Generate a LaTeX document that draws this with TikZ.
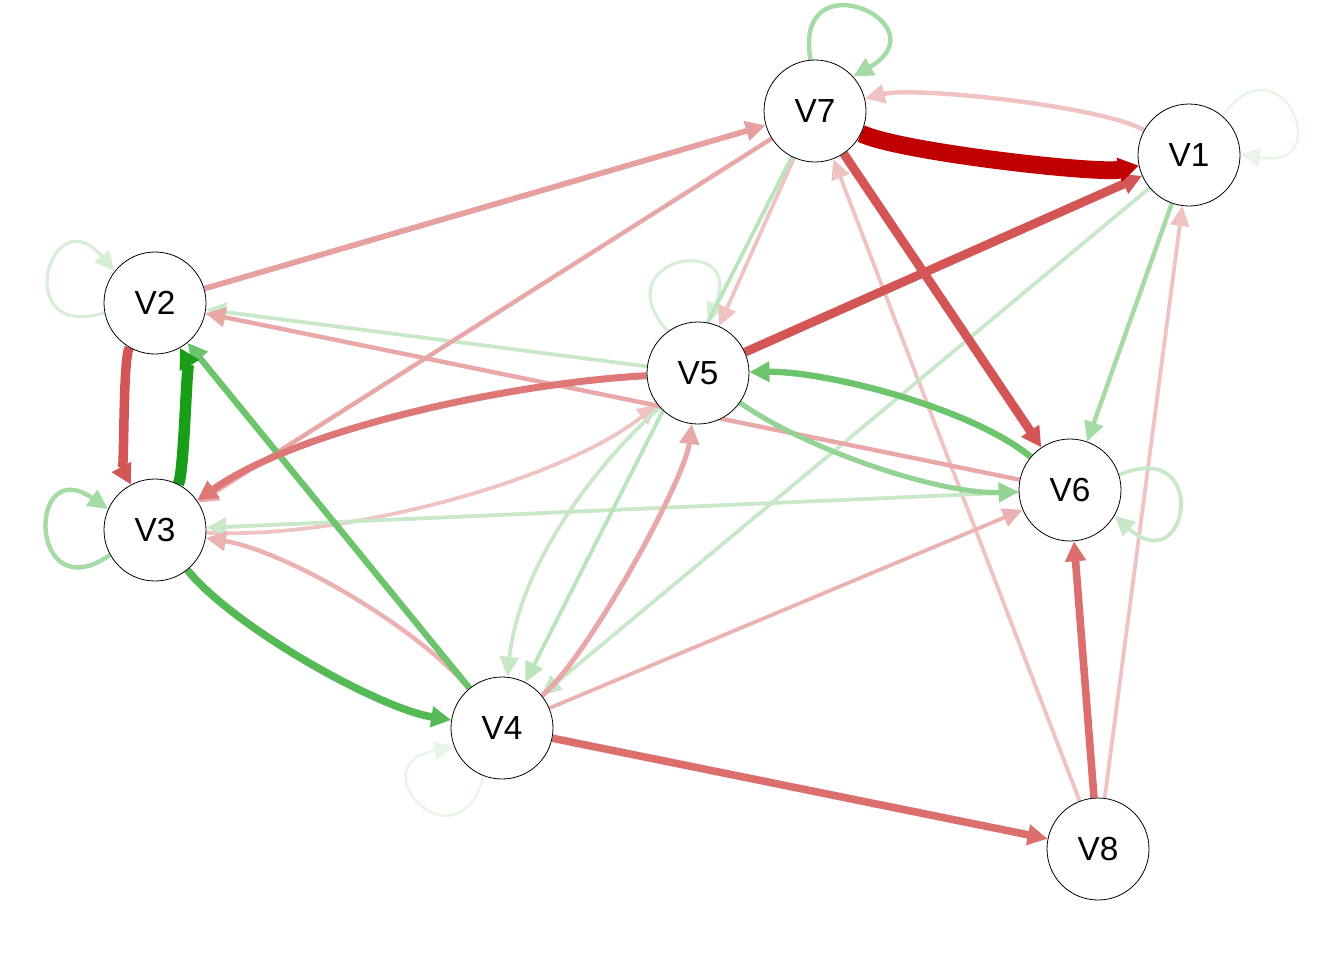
\documentclass[tikz,border=0pt]{standalone}
\usepackage{fontspec}
\setmainfont{Liberation Sans}
\usetikzlibrary{arrows.meta}

% edge colours: greens for positive, reds for negative weights
\definecolor{gA}{HTML}{E8F5E8}
\definecolor{gB}{HTML}{D7EED7}
\definecolor{gC}{HTML}{C8E8C8}
\definecolor{gD}{HTML}{BAE4BA}
\definecolor{gE}{HTML}{A6DBA6}
\definecolor{gF}{HTML}{94D394}
\definecolor{gG}{HTML}{6CC46C}
\definecolor{gH}{HTML}{55B955}
\definecolor{gI}{HTML}{1A9E1A}
\definecolor{rA}{HTML}{F0C3C3}
\definecolor{rB}{HTML}{EBB2B2}
\definecolor{rC}{HTML}{E8A8A8}
\definecolor{rD}{HTML}{E6A0A0}
\definecolor{rE}{HTML}{DE7878}
\definecolor{rF}{HTML}{DC6E6E}
\definecolor{rG}{HTML}{D45555}
\definecolor{rH}{HTML}{C00000}

\pgfdeclarelayer{edges}
\pgfsetlayers{edges,main}

\begin{document}
\begin{tikzpicture}[x=0.75pt,y=-0.75pt,
  vnode/.style={circle,draw=black,line width=0.6pt,fill=white,
    minimum size=76.5pt,inner sep=0pt,font=\fontsize{25}{29}\selectfont},
  wedge/.style 2 args={draw=#1,line width=#2*0.95pt,
    -{Triangle[length=15pt,width=13pt 0.35]}},
]
\useasboundingbox (0,0) rectangle (1344,960);

% variables
\node[vnode] (V1) at (1189,155) {V1};
\node[vnode] (V2) at (155,303) {V2};
\node[vnode] (V3) at (155,530) {V3};
\node[vnode] (V4) at (502,728) {V4};
\node[vnode] (V5) at (698,373) {V5};
\node[vnode] (V6) at (1070,490) {V6};
\node[vnode] (V7) at (815,111) {V7};
\node[vnode] (V8) at (1098,849) {V8};

\begin{pgfonlayer}{edges}
% self-loops
\draw[wedge={gA}{2}] (V1.49) .. controls +(55:75pt) and +(-10:75pt) .. (V1.1);
\draw[wedge={gA}{2}] (V4.249) .. controls +(255:75pt) and +(190:75pt) .. (V4.202);
\draw[wedge={gB}{2.5}] (V2.191) .. controls +(197:75pt) and +(130:75pt) .. (V2.142);
\draw[wedge={gB}{2.5}] (V5.126) .. controls +(132:75pt) and +(67:75pt) .. (V5.79);

% weak edges
\draw[wedge={rA}{3.5}] (V1) to[out=151,in=14,looseness=0.46] (V7);
\draw[wedge={rA}{3}] (V8) -- (V7);
\draw[wedge={rA}{3}] (V8) -- (V1);
\draw[wedge={rA}{3}] (V3) to[out=-3,in=218,looseness=0.71] (V5);
\draw[wedge={rA}{3}] (V7) -- (V5);
\draw[wedge={gC}{3}] (V5) to[out=222,in=84,looseness=0.85] (V4);
\draw[wedge={gC}{3}] (V1) -- (V4);
\draw[wedge={gC}{3}] (V6) -- (V3);
\draw[wedge={gC}{3}] (V5) -- (V2);

\draw[wedge={gC}{3}] (V6.17) .. controls +(23:75pt) and +(-42:75pt) .. (V6.-30);
\draw[wedge={gD}{3}] (V7) -- (V4);

\draw[wedge={rB}{3}] (V4) -- (V6);
\draw[wedge={rB}{3.5}] (V4) to[out=130,in=351,looseness=0.68] (V3);
\draw[wedge={rC}{3.5}] (V6) -- (V2);
\draw[wedge={rC}{3.5}] (V7) -- (V3);
\draw[wedge={rC}{4}] (V4) to[out=39,in=263,looseness=0.47] (V5);
\draw[wedge={rD}{4.5}] (V2) -- (V7);

% medium edges
\draw[wedge={gE}{3.5}] (V1) -- (V6);
\draw[wedge={gE}{3.5}] (V3.209) .. controls +(215:75pt) and +(145:75pt) .. (V3.156);
\draw[wedge={gE}{3.5}] (V7.95) .. controls +(100:79pt) and +(30:79pt) .. (V7.42);
\draw[wedge={gF}{4}] (V5) to[out=-35.5,in=182,looseness=0.7] (V6);

\draw[wedge={gG}{5}] (V6) to[out=140,in=1,looseness=0.66] (V5);
\draw[wedge={gG}{5}] (V4) -- (V2);
\draw[wedge={rE}{5.5}] (V5) to[out=183,in=35,looseness=0.71] (V3);
\draw[wedge={gH}{6}] (V3) to[out=-51,in=171,looseness=0.62] (V4);

% strong edges
\draw[wedge={rF}{6}] (V8) -- (V6);
\draw[wedge={rF}{6}] (V4) -- (V8);
\draw[wedge={rG}{7.5}] (V2) to[out=-120,in=118,looseness=0.25] (V3);
\draw[wedge={rG}{7}] (V5) -- (V1);
\draw[wedge={rG}{7}] (V7) -- (V6);
\draw[wedge={gI}{9}] (V3) to[out=63,in=-61,looseness=0.25] (V2);
\draw[wedge={rH}{14}] (V7) to[out=-26,in=192,looseness=0.38] (V1);
\end{pgfonlayer}
\end{tikzpicture}
\end{document}
